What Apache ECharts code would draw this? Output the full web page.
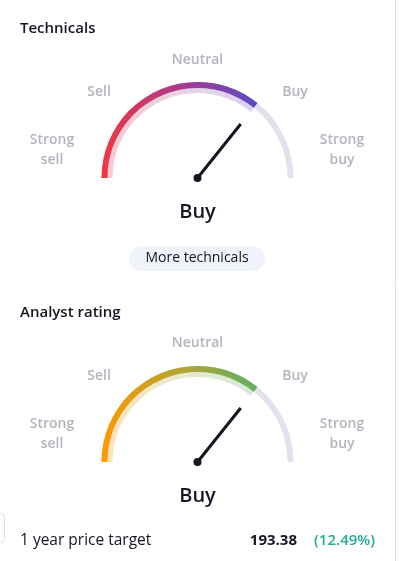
<!DOCTYPE html>
<html>
<head>
<meta charset="utf-8">
<script src="https://cdn.jsdelivr.net/npm/echarts@6/dist/echarts.min.js"></script>
<style>
  html, body { margin: 0; padding: 0; background: #ffffff; }
  #chart { width: 399px; height: 561px; }
</style>
</head>
<body>
<div id="chart"></div>
<script>
// ---- Data ----
const ratingLabels = ['Strong\nsell', 'Sell', 'Neutral', 'Buy', 'Strong\nbuy'];
const gaugeTitles = ['Technicals', 'Analyst rating'];
const gaugeValues = [0.43, 0.43];          // scale -1 (strong sell) .. 1 (strong buy)
const gaugeRatings = ['Buy', 'Buy'];
const buttonText = 'More technicals';
const priceTargetLabel = '1 year price target';
const priceTargetValue = '193.38';
const priceTargetChange = '(12.49%)';

// ---- Styling / layout ----
const FONT = '"Open Sans", Roboto, sans-serif';
const centers = [[197.5, 178], [197.5, 462]];
const gradients = [
  { main: ['#f23645', '#9a3c98', '#5b4cc6'], light: ['#f9c9cf', '#e3d3ea', '#d7d1ef'] },
  { main: ['#ff9800', '#a4a83a', '#5fae62'], light: ['#ffe2b8', '#e6ebd2', '#d3ead5'] }
];
const labelOffsets = [[-145.5, -28], [-98.5, -86], [0, -118], [97.5, -86], [144.5, -28]];

function lg(c) {
  return new echarts.graphic.LinearGradient(0, 0, 1, 0, [
    { offset: 0, color: c[0] },
    { offset: 0.6, color: c[1] },
    { offset: 1, color: c[2] }
  ]);
}

const series = [];
const graphic = [];

gaugeValues.forEach((v, i) => {
  const c = centers[i];
  series.push({
    type: 'gauge', center: c, radius: 90, startAngle: 180, endAngle: 0, min: -1, max: 1,
    z: 1,
    axisLine: { show: false },
    progress: { show: true, width: 5, itemStyle: { color: lg(gradients[i].light) } },
    splitLine: { show: false }, axisTick: { show: false }, axisLabel: { show: false },
    pointer: { show: false }, anchor: { show: false }, title: { show: false }, detail: { show: false },
    silent: true, animation: false,
    data: [{ value: v }]
  });
  series.push({
    type: 'gauge', center: c, radius: 96, startAngle: 180, endAngle: 0, min: -1, max: 1,
    z: 2,
    axisLine: { lineStyle: { width: 6, color: [[1, '#e0e3eb']] } },
    progress: { show: true, width: 6, itemStyle: { color: lg(gradients[i].main) } },
    splitLine: { show: false }, axisTick: { show: false }, axisLabel: { show: false },
    pointer: { show: true, icon: 'rect', length: '72%', width: 3, itemStyle: { color: '#131722' } },
    anchor: { show: true, size: 8, showAbove: true, itemStyle: { color: '#131722' } },
    title: { show: false },
    detail: {
      show: true, offsetCenter: [0, 34], formatter: () => gaugeRatings[i],
      fontSize: 20, fontWeight: 600, color: '#131722', fontFamily: FONT
    },
    silent: true, animation: false,
    data: [{ value: v }]
  });

  // title
  graphic.push({
    type: 'text', x: 20, y: c[1] - 149,
    style: { text: gaugeTitles[i], font: '600 15px ' + FONT, fill: '#131722', verticalAlign: 'middle', align: 'left' }
  });
  // rating labels
  ratingLabels.forEach((t, k) => {
    graphic.push({
      type: 'text', x: c[0] + labelOffsets[k][0], y: c[1] + labelOffsets[k][1] + (i === 1 && k === 2 ? -1 : 0),
      style: { text: t, font: '600 14px ' + FONT, fill: '#b2b5be', align: 'center', verticalAlign: 'middle', lineHeight: 20 }
    });
  });
});

// button
graphic.push({
  type: 'rect', shape: { x: 129, y: 246.5, width: 136, height: 24.5, r: 12.25 },
  style: { fill: '#f0f3fa' }
});
graphic.push({
  type: 'text', x: 197, y: 258.5,
  style: { text: buttonText, font: '400 14px ' + FONT, fill: '#131722', align: 'center', verticalAlign: 'middle' }
});

// price target row
graphic.push({
  type: 'text', x: 20, y: 541,
  style: { text: priceTargetLabel, font: '400 15.5px ' + FONT, fill: '#131722', align: 'left', verticalAlign: 'middle' }
});
graphic.push({
  type: 'text', x: 297, y: 541,
  style: { text: priceTargetValue, font: '700 15px ' + FONT, fill: '#131722', align: 'right', verticalAlign: 'middle' }
});
graphic.push({
  type: 'text', x: 375, y: 541,
  style: { text: priceTargetChange, font: '600 15px ' + FONT, fill: '#22ab94', align: 'right', verticalAlign: 'middle' }
});

// decorative edges
graphic.push({ type: 'line', shape: { x1: 395.5, y1: 0, x2: 395.5, y2: 561 }, style: { stroke: '#e0e3eb', lineWidth: 1 } });
graphic.push({ type: 'rect', shape: { x: -10, y: 513.5, width: 14.5, height: 29, r: 4 }, style: { fill: '#fff', stroke: '#e0e3eb', lineWidth: 1 } });

const chart = echarts.init(document.getElementById('chart'), null, { renderer: 'canvas' });
chart.setOption({ animation: false, series, graphic });
</script>
</body>
</html>
